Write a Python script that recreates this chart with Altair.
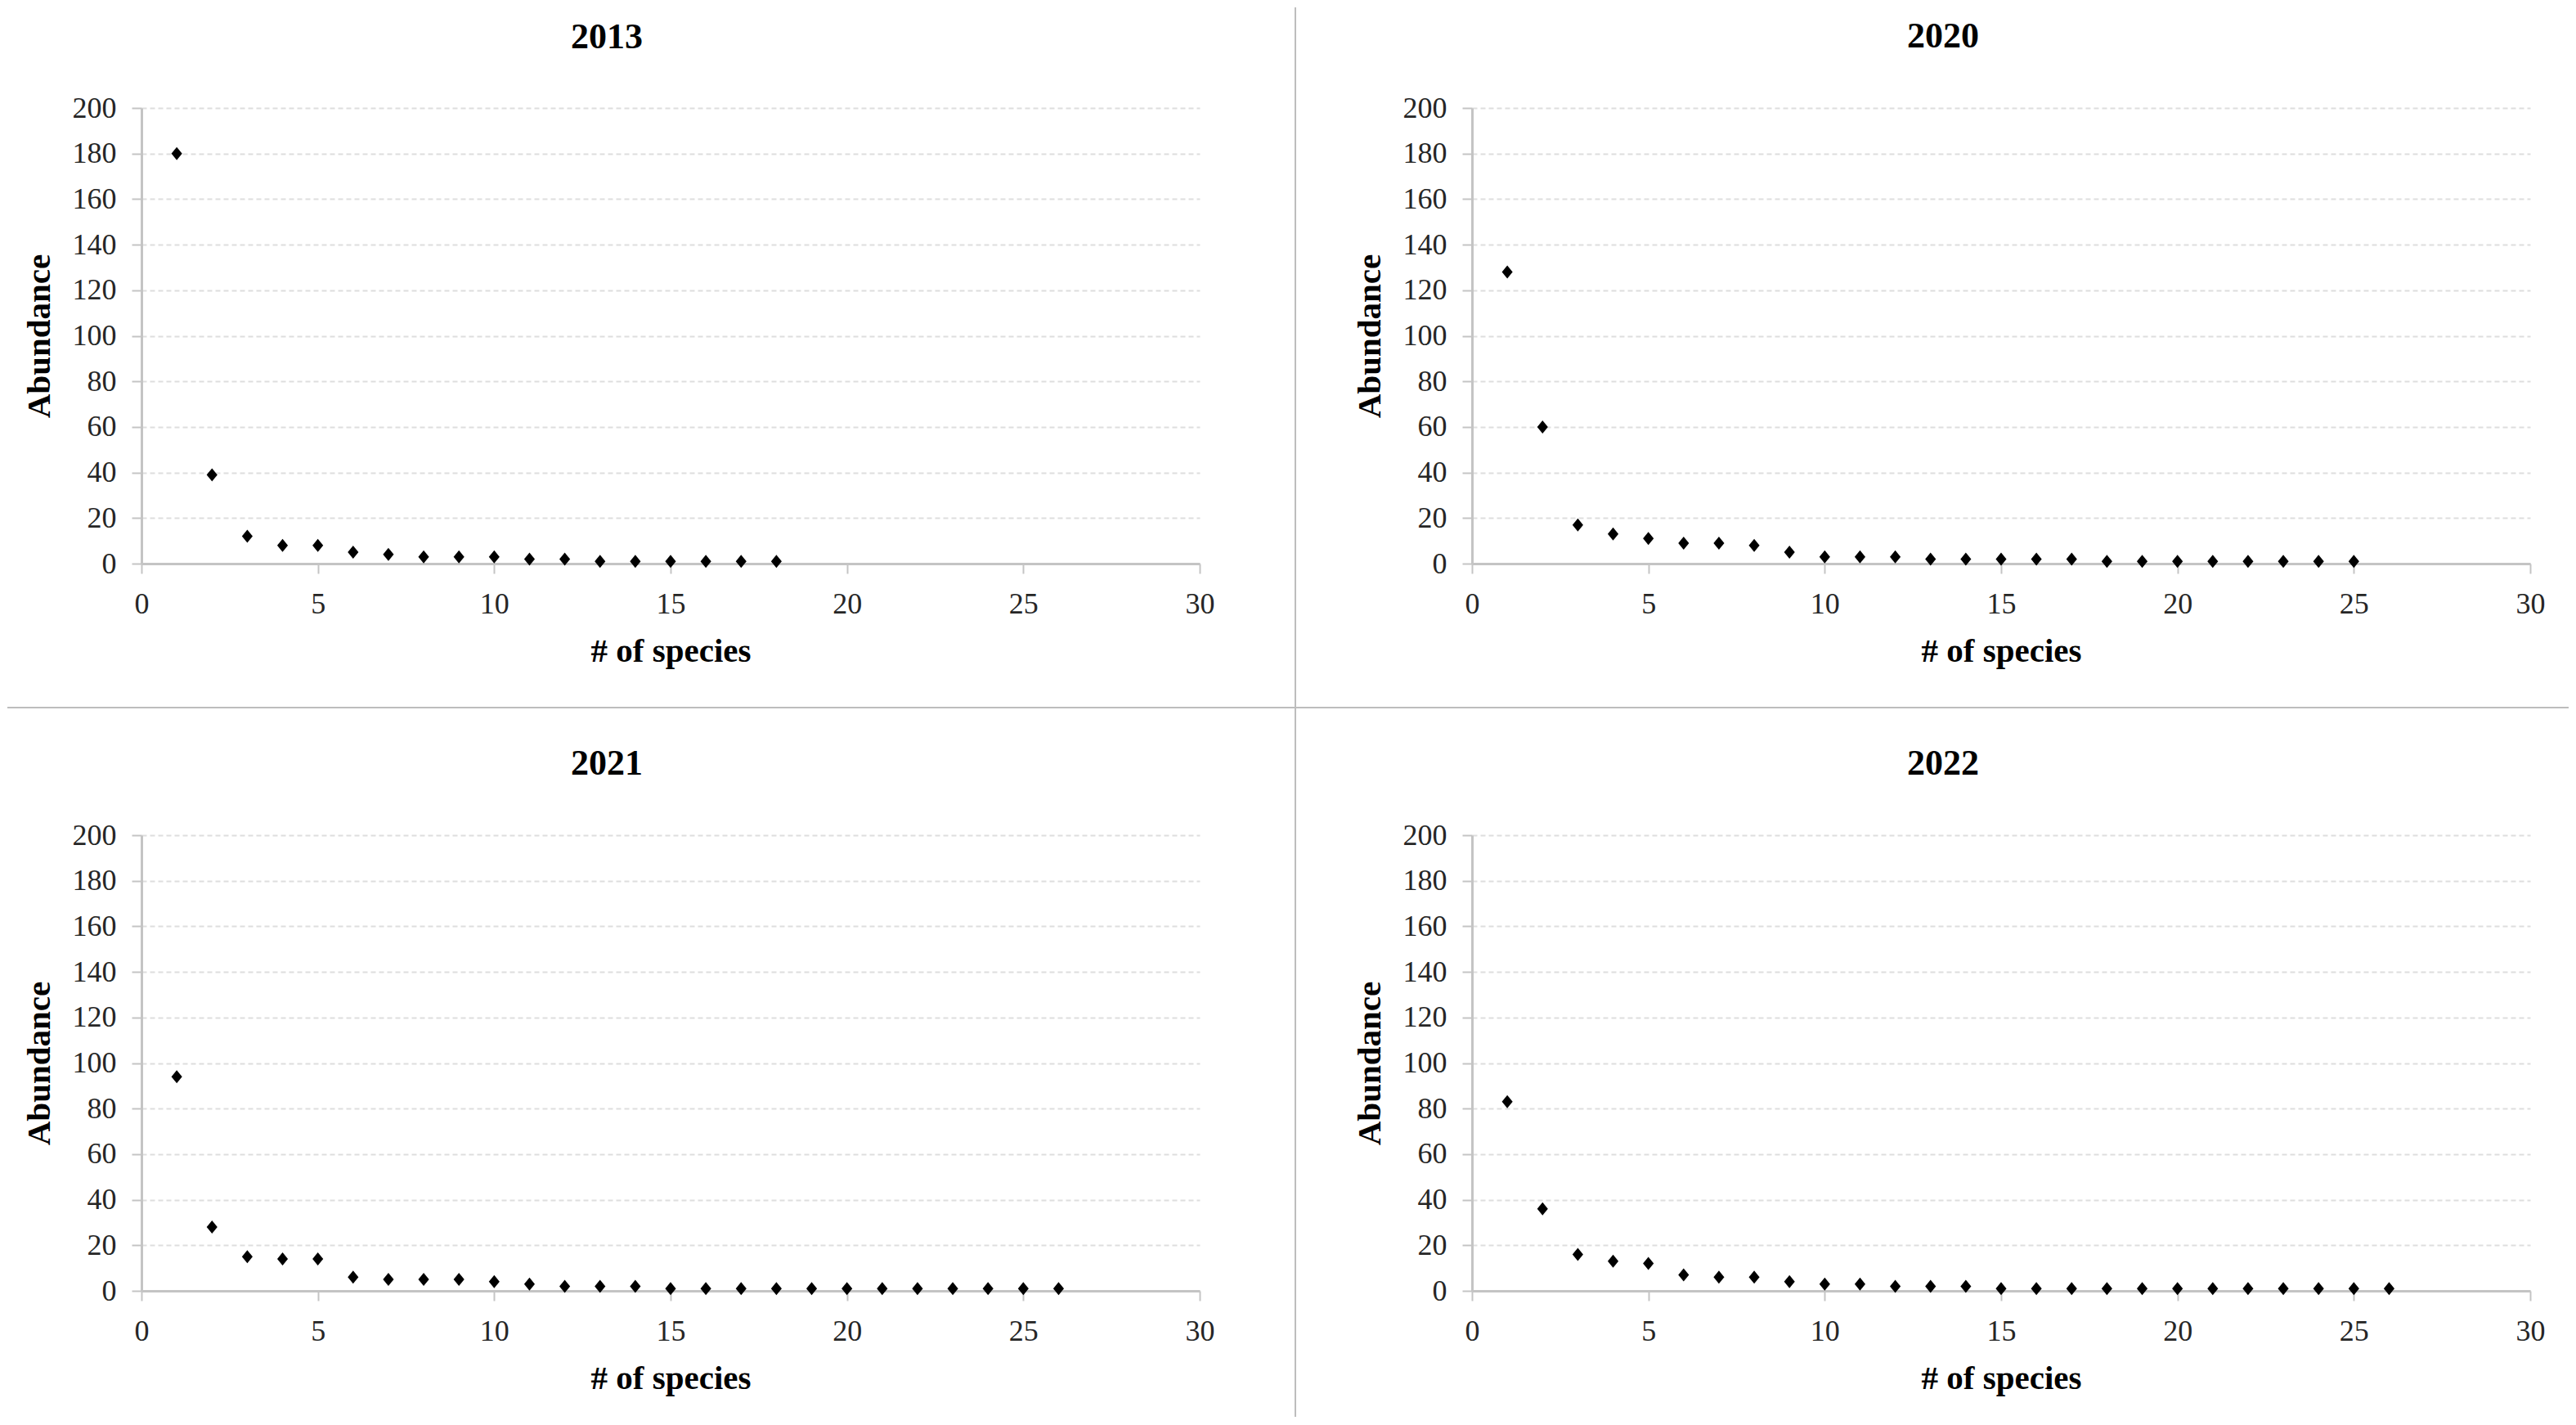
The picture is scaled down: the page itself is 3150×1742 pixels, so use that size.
import altair as alt
import pandas as pd

years = ["2013", "2020", "2021", "2022"]
ranks = [1, 2, 3, 4, 5, 6, 7, 8, 9, 10, 11, 12, 13, 14, 15, 16, 17, 18, 19, 20,
         21, 22, 23, 24, 25, 26]
abund_2013 = [180, 39, 12, 8, 8, 5, 4, 3, 3, 3, 2, 2, 1, 1, 1, 1, 1, 1]
abund_2020 = [128, 60, 17, 13, 11, 9, 9, 8, 5, 3, 3, 3, 2, 2, 2, 2, 2, 1, 1, 1,
              1, 1, 1, 1, 1]
abund_2021 = [94, 28, 15, 14, 14, 6, 5, 5, 5, 4, 3, 2, 2, 2, 1, 1, 1, 1, 1, 1,
              1, 1, 1, 1, 1, 1]
abund_2022 = [83, 36, 16, 13, 12, 7, 6, 6, 4, 3, 3, 2, 2, 2, 1, 1, 1, 1, 1, 1,
              1, 1, 1, 1, 1, 1]
x_ticks = [0, 5, 10, 15, 20, 25, 30]
y_ticks = [0, 20, 40, 60, 80, 100, 120, 140, 160, 180, 200]

FONT = "Liberation Serif"
W, H = 1294, 557
DIAMOND = "M0,-1L0.82,0L0,1L-0.82,0Z"
GRID = "#dedede"
AXIS = "#c4c4c4"
TITLE_OFFSET = 47
RULE_TOP = -123


def panel(values):
    df = pd.DataFrame({"rank": ranks[:len(values)], "abundance": values})
    pts = alt.Chart(df).mark_point(
        shape=DIAMOND, filled=True, color="black", size=256, opacity=1
    ).encode(
        x=alt.X("rank:Q",
                scale=alt.Scale(domain=[0, 30], nice=False, zero=True),
                axis=alt.Axis(values=x_ticks, title="# of species", grid=False,
                              tickSize=12, labelPadding=20, titlePadding=20)),
        y=alt.Y("abundance:Q",
                scale=alt.Scale(domain=[0, 200], nice=False),
                axis=alt.Axis(values=y_ticks, title="Abundance", grid=True,
                              tickSize=12, labelPadding=19, titlePadding=19)),
    )
    return pts


p1 = panel(abund_2013)
p2 = panel(abund_2020)
p3 = panel(abund_2021)
p4 = panel(abund_2022)

sep_df = pd.DataFrame({"k": [0]})
vline = alt.Chart(sep_df).mark_rule(color="#bdbdbd", strokeWidth=2).encode(
    x=alt.value(1411), y=alt.value(RULE_TOP), y2=alt.value(1600))
hline = alt.Chart(sep_df).mark_rule(color="#bdbdbd", strokeWidth=2).encode(
    x=alt.value(-164), x2=alt.value(2968), y=alt.value(733))


def titled(chart, year, offset, dx):
    return chart.properties(
        width=W, height=H,
        title=alt.TitleParams(year, dx=dx, offset=offset, frame="group",
                              anchor="middle", font=FONT, fontSize=44,
                              fontWeight="bold", color="black"))


c1 = titled(alt.layer(vline, hline, p1), years[0], -60, -78)
c2 = titled(p2, years[1], TITLE_OFFSET, -71)
c3 = titled(p3, years[2], TITLE_OFFSET, -78)
c4 = titled(p4, years[3], TITLE_OFFSET, -71)

chart = alt.concat(
    c1, c2, c3, c4, columns=2,
    spacing={"row": 332, "column": 333}, bounds="flush"
).properties(
    padding=0, background="white"
).configure_view(stroke=None).configure_axis(
    labelFont=FONT, labelFontSize=36, labelColor="#262626",
    titleFont=FONT, titleFontSize=41, titleFontWeight="bold", titleColor="black",
    domainColor=AXIS, domainWidth=3, tickColor=AXIS, tickWidth=2,
    gridColor=GRID, gridWidth=2, gridDash=[6, 4], labelFlush=False,
    labelOverlap=False,
)

chart.save("out.html", embed_options={"renderer": "svg", "actions": False})
